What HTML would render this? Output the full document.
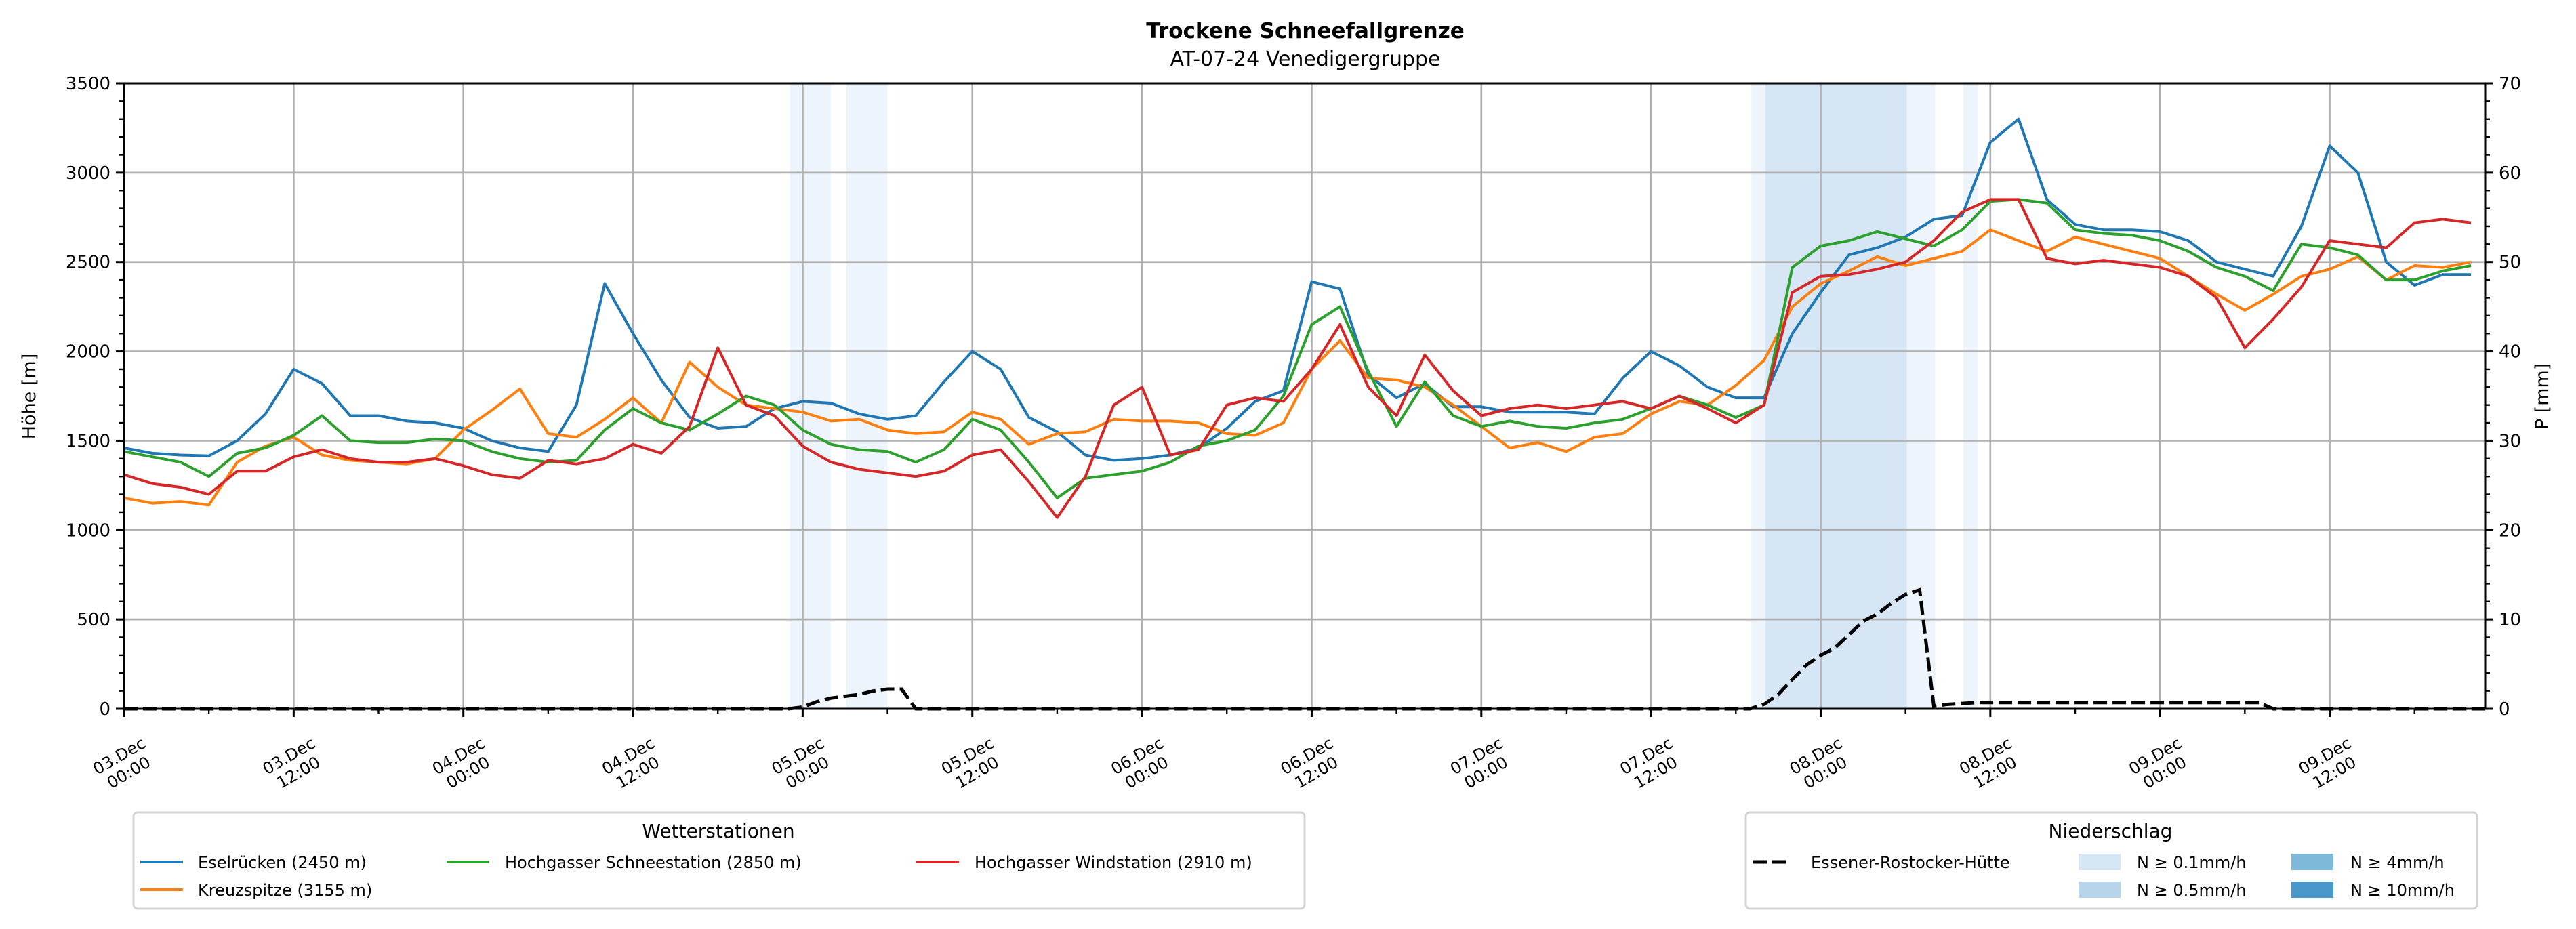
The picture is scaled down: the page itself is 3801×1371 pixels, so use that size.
<!DOCTYPE html>
<html><head><meta charset="utf-8">
<style>
html,body{margin:0;padding:0;background:#fff;}
svg{display:block;font-family:"DejaVu Sans","Liberation Sans",sans-serif;}
</style></head>
<body>
<svg id="chart" width="3801" height="1371" viewBox="0 0 3801 1371" xmlns="http://www.w3.org/2000/svg">
<rect x="0" y="0" width="3801" height="1371" fill="#fff"/>
<text x="1926" y="56" text-anchor="middle" font-size="31" font-weight="bold">Trockene Schneefallgrenze</text>
<text x="1926" y="97" text-anchor="middle" font-size="30">AT-07-24 Venedigergruppe</text>
<g id="shade"></g>
<g id="grid"></g>
<g id="series"></g>
<g id="axes"></g>
<text transform="translate(52,585) rotate(-90)" text-anchor="middle" font-size="27">Höhe [m]</text>
<text transform="translate(3760,585) rotate(-90)" text-anchor="middle" font-size="27">P [mm]</text>

<g>
<rect x="197" y="1199" width="1728" height="142" rx="6" fill="#fff" stroke="#d4d4d4" stroke-width="3"/>
<text x="1060" y="1236" text-anchor="middle" font-size="28">Wetterstationen</text>
<g><line x1="207" y1="1272" x2="270" y2="1272" stroke="#1f77b4" stroke-width="4"/><text x="292" y="1281" font-size="24">Eselrücken (2450 m)</text></g>
<g><line x1="207" y1="1313" x2="270" y2="1313" stroke="#ff7f0e" stroke-width="4"/><text x="292" y="1322" font-size="24">Kreuzspitze (3155 m)</text></g>
<g><line x1="659" y1="1272" x2="722" y2="1272" stroke="#2ca02c" stroke-width="4"/><text x="745" y="1281" font-size="24">Hochgasser Schneestation (2850 m)</text></g>
<g><line x1="1352" y1="1272" x2="1415" y2="1272" stroke="#d62728" stroke-width="4"/><text x="1438" y="1281" font-size="24">Hochgasser Windstation (2910 m)</text></g>
</g>

<g>
<rect x="2576" y="1199" width="1079" height="142" rx="6" fill="#fff" stroke="#d4d4d4" stroke-width="3"/>
<text x="3114" y="1236" text-anchor="middle" font-size="28">Niederschlag</text>
<g><line x1="2587" y1="1272" x2="2643" y2="1272" stroke="#000" stroke-width="5" stroke-dasharray="20,8"/><text x="2672" y="1281" font-size="24">Essener-Rostocker-Hütte</text></g>
<g><rect x="3067" y="1260" width="62" height="24" fill="#d6e6f4"/><text x="3153" y="1281" font-size="24">N ≥ 0.1mm/h</text></g>
<g><rect x="3067" y="1301" width="62" height="24" fill="#b8d4ea"/><text x="3153" y="1322" font-size="24">N ≥ 0.5mm/h</text></g>
<g><rect x="3381" y="1260" width="62" height="24" fill="#80b8da"/><text x="3468" y="1281" font-size="24">N ≥ 4mm/h</text></g>
<g><rect x="3381" y="1301" width="62" height="24" fill="#4a97c9"/><text x="3468" y="1322" font-size="24">N ≥ 10mm/h</text></g>
</g>
</svg>
<script>
// ---- data (2-hourly samples starting 03.Dec 00:00) ----
const stepHours = 2;
const eselrueckenVals = [1460,1430,1420,1415,1500,1650,1900,1820,1640,1640,1610,1600,1570,1500,1460,1440,1700,2380,2100,1840,1630,1570,1580,1680,1720,1710,1650,1620,1640,1830,2000,1900,1630,1550,1420,1390,1400,1420,1460,1570,1720,1780,2390,2350,1870,1740,1820,1690,1690,1660,1660,1660,1650,1850,2000,1920,1800,1740,1740,2100,2330,2540,2580,2640,2740,2760,3170,3300,2850,2710,2680,2680,2670,2620,2500,2460,2420,2700,3150,3000,2500,2370,2430,2430];
const kreuzspitzeVals = [1180,1150,1160,1140,1380,1470,1520,1420,1390,1380,1370,1400,1560,1670,1790,1540,1520,1620,1740,1600,1940,1800,1700,1680,1660,1610,1620,1560,1540,1550,1660,1620,1480,1540,1550,1620,1610,1610,1600,1540,1530,1600,1900,2060,1850,1840,1800,1700,1580,1460,1490,1440,1520,1540,1650,1720,1700,1810,1950,2250,2380,2450,2530,2480,2520,2560,2680,2620,2560,2640,2600,2560,2520,2420,2320,2230,2320,2420,2460,2530,2400,2480,2470,2500];
const schneestationVals = [1440,1410,1380,1300,1430,1460,1530,1640,1500,1490,1490,1510,1500,1440,1400,1380,1390,1560,1680,1600,1560,1650,1750,1700,1560,1480,1450,1440,1380,1450,1620,1560,1380,1180,1290,1310,1330,1380,1470,1500,1560,1750,2150,2250,1890,1580,1830,1640,1580,1610,1580,1570,1600,1620,1680,1750,1700,1630,1700,2470,2590,2620,2670,2630,2590,2680,2840,2850,2830,2680,2660,2650,2620,2560,2470,2420,2340,2600,2580,2540,2400,2400,2450,2480];
const windstationVals = [1310,1260,1240,1200,1330,1330,1410,1450,1400,1380,1380,1400,1360,1310,1290,1390,1370,1400,1480,1430,1580,2020,1700,1640,1470,1380,1340,1320,1300,1330,1420,1450,1270,1070,1300,1700,1800,1420,1450,1700,1740,1720,1900,2150,1800,1640,1980,1780,1640,1680,1700,1680,1700,1720,1680,1750,1680,1600,1700,2330,2420,2430,2460,2500,2620,2780,2850,2850,2520,2490,2510,2490,2470,2420,2300,2020,2180,2360,2620,2600,2580,2720,2740,2720];
const precipHours = [0,47,48,49,50,51,52,53,54,55,56,115,116,117,118,119,120,121,122,123,124,125,126,127,128,129,130,131,151,152,167];
const precipVals  = [0,0,0.2,0.8,1.2,1.4,1.6,2.0,2.2,2.2,0,0,0.5,1.6,3.3,4.9,6.0,6.8,8.3,9.8,10.6,11.8,12.8,13.3,0.3,0.5,0.6,0.7,0.7,0,0];
const paleSpanStart = [47.1,51.1,115.1,126.1,130.1];
const paleSpanEnd   = [50.0,54.0,116.1,128.1,131.1];
const lightSpanStart = [116.1];
const lightSpanEnd   = [126.1];
const yTicks = [0,500,1000,1500,2000,2500,3000,3500];
const y2Ticks = [0,10,20,30,40,50,60,70];
const xTickHours = [0,12,24,36,48,60,72,84,96,108,120,132,144,156];
const xTickDay = ["03.Dec","03.Dec","04.Dec","04.Dec","05.Dec","05.Dec","06.Dec","06.Dec","07.Dec","07.Dec","08.Dec","08.Dec","09.Dec","09.Dec"];
const xTickTime = ["00:00","12:00","00:00","12:00","00:00","12:00","00:00","12:00","00:00","12:00","00:00","12:00","00:00","12:00"];

// ---- scales ----
const L=183,R=3667,T=123,B=1046,HMAX=167,YMAX=3500,PMAX=70;
const xS=h=>L+h*(R-L)/HMAX;
const yS=v=>B-v*(B-T)/YMAX;
const pS=v=>B-v*(B-T)/PMAX;
const NS="http://www.w3.org/2000/svg";
function mk(tag,attrs,parent){const e=document.createElementNS(NS,tag);for(const k in attrs)e.setAttribute(k,attrs[k]);parent.appendChild(e);return e;}

const shade=document.getElementById('shade');
paleSpanStart.forEach((s,i)=>{const r=mk('rect',{x:xS(s),y:T,width:xS(paleSpanEnd[i])-xS(s),height:B-T,fill:'#eef4fb'},shade);

});
lightSpanStart.forEach((s,i)=>{const r=mk('rect',{x:xS(s),y:T,width:xS(lightSpanEnd[i])-xS(s),height:B-T,fill:'#d7e6f4'},shade);

});

const grid=document.getElementById('grid');
xTickHours.forEach(h=>{const l=mk('line',{x1:xS(h),x2:xS(h),y1:T,y2:B,stroke:'#b0b0b0','stroke-width':2.7},grid);

});
yTicks.forEach(v=>{const l=mk('line',{x1:L,x2:R,y1:yS(v),y2:yS(v),stroke:'#b0b0b0','stroke-width':2.7},grid);

});

const ser=document.getElementById('series');
function drawLine(vals,color,name){
  const pts=vals.map((v,i)=>xS(i*stepHours).toFixed(1)+','+yS(v).toFixed(1)).join(' ');
  const p=mk('polyline',{points:pts,fill:'none',stroke:color,'stroke-width':4,'stroke-linejoin':'round'},ser);
  
  
}
drawLine(eselrueckenVals,'#1f77b4','eselruecken-line');
drawLine(kreuzspitzeVals,'#ff7f0e','kreuzspitze-line');
drawLine(schneestationVals,'#2ca02c','schneestation-line');
drawLine(windstationVals,'#d62728','windstation-line');
const pp=precipHours.map((h,i)=>xS(h).toFixed(1)+','+pS(precipVals[i]).toFixed(1)).join(' ');
const pl=mk('polyline',{points:pp,fill:'none',stroke:'#000','stroke-width':5,'stroke-dasharray':'20,8'},ser);



const ax=document.getElementById('axes');
mk('rect',{x:L,y:T,width:R-L,height:B-T,fill:'none',stroke:'#000','stroke-width':3},ax);
for(let v=0;v<=YMAX;v+=100){const maj=v%500===0;mk('line',{x1:L,x2:L-(maj?12:7),y1:yS(v),y2:yS(v),stroke:'#000','stroke-width':maj?3:2.4},ax);}
yTicks.forEach(v=>{const t=mk('text',{x:L-20,y:yS(v)+9,'text-anchor':'end','font-size':26},ax);t.textContent=v;

});
for(let v=0;v<=PMAX;v+=2){const maj=v%10===0;mk('line',{x1:R,x2:R+(maj?12:7),y1:pS(v),y2:pS(v),stroke:'#000','stroke-width':maj?3:2.4},ax);}
y2Ticks.forEach(v=>{const t=mk('text',{x:R+20,y:pS(v)+9,'text-anchor':'start','font-size':26},ax);t.textContent=v;

});
for(let h=0;h<=HMAX;h+=6){const maj=h%12===0;mk('line',{x1:xS(h),x2:xS(h),y1:B,y2:B+(maj?12:7),stroke:'#000','stroke-width':maj?3:2.4},ax);}
xTickHours.forEach((h,i)=>{
  const g=mk('g',{transform:'translate('+xS(h)+',1128) rotate(-30)'},ax);
  
  
  const t=mk('text',{'text-anchor':'middle','font-size':24},g);
  const a=mk('tspan',{x:0,y:-6},t);a.textContent=xTickDay[i];
  const b=mk('tspan',{x:0,y:22},t);b.textContent=xTickTime[i];
});
</script>
</body></html>
